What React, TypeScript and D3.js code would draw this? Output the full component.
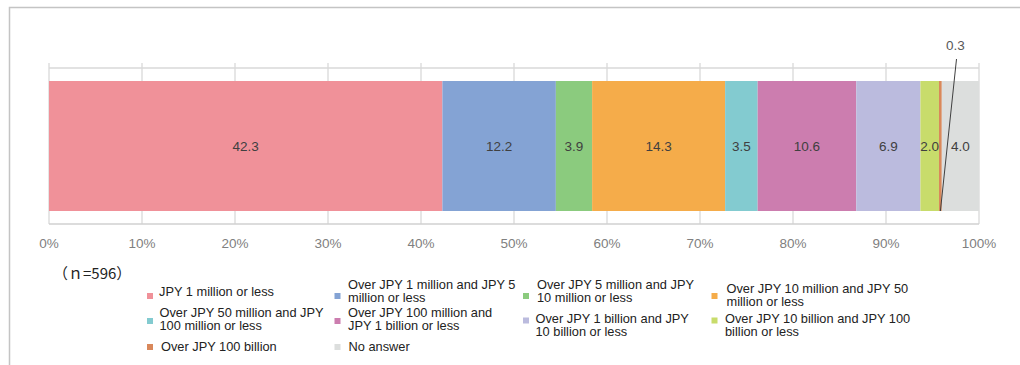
import * as d3 from 'd3'

// values (%), in stacking order
const categories = [
  'JPY 1 million or less',
  'Over JPY 1 million and JPY 5\nmillion or less',
  'Over JPY 5 million and JPY\n10 million or less',
  'Over JPY 10 million and JPY 50\nmillion or less',
  'Over JPY 50 million and JPY\n100 million or less',
  'Over JPY 100 million and\nJPY 1 billion or less',
  'Over JPY 1 billion and JPY\n10 billion or less',
  'Over JPY 10 billion and JPY 100\nbillion or less',
  'Over JPY 100 billion',
  'No answer',
]
const values = [42.3, 12.2, 3.9, 14.3, 3.5, 10.6, 6.9, 2.0, 0.3, 4.0]
const colors = [
  '#F09199', '#84A3D4', '#8BCB7E', '#F5AC4A', '#83CBD0',
  '#CC7DAF', '#BBBBDE', '#C8DC6B', '#D9885B', '#DCDEDD',
]
const xTicks = [0, 10, 20, 30, 40, 50, 60, 70, 80, 90, 100]
const sampleNote = '（ｎ=596）'

const W = 1020
const H = 365
const plot = { left: 49, right: 979, top: 68, bottom: 224 }
const bar = { top: 81, bottom: 211 }
const font = '"Liberation Sans", Arial, sans-serif'

// legend placement (Excel legend is a bit uneven)
const legendPos = [
  { sx: 147, sy: 296, tx: 159, ty: 291.7 },
  { sx: 334.5, sy: 296, tx: 348, ty: 284 },
  { sx: 523, sy: 296, tx: 537, ty: 284 },
  { sx: 711.5, sy: 296, tx: 726.5, ty: 288.3 },
  { sx: 147, sy: 321, tx: 159.5, ty: 312.7 },
  { sx: 334.5, sy: 321, tx: 348, ty: 312.7 },
  { sx: 523, sy: 320.5, tx: 535.5, ty: 318.3 },
  { sx: 711.5, sy: 320.5, tx: 725, ty: 318.3 },
  { sx: 147, sy: 347, tx: 161, ty: 346.7 },
  { sx: 334.5, sy: 347, tx: 348.5, ty: 346.7 },
]

const App = () => {
  const x = d3.scaleLinear().domain([0, 100]).range([plot.left, plot.right])

  const starts = values.map((_, i) => d3.sum(values.slice(0, i)))
  const smallIdx = 8 // 0.3 gets a leader label above the bar

  return (
    <svg width={W} height={H} style={{ display: 'block', position: 'absolute', left: 0, top: 0 }}>
      <rect width={W} height={H} fill="#fff" />
      {/* outer frame */}
      <path d={`M9.5,${H} V7.5 H${W}`} fill="none" stroke="#c4c4c4" strokeWidth={1.5} />

      {/* grid */}
      {xTicks.map(t => (
        <line key={t} x1={x(t)} x2={x(t)} y1={63} y2={plot.bottom} stroke="#d9d9d9" strokeWidth={1.3} />
      ))}
      <line x1={plot.left} x2={plot.right} y1={plot.top} y2={plot.top} stroke="#d9d9d9" strokeWidth={1.3} />
      <line x1={plot.left} x2={plot.right} y1={plot.bottom} y2={plot.bottom} stroke="#d0d0d0" strokeWidth={1.5} />

      {/* bars */}
      {values.map((v, i) => (
        <rect
          key={i}
          x={x(starts[i])}
          y={bar.top}
          width={x(starts[i] + v) - x(starts[i])}
          height={bar.bottom - bar.top}
          fill={colors[i]}
        />
      ))}

      {/* value labels */}
      {values.map((v, i) => i === smallIdx ? null : (
        <text
          key={i}
          x={x(starts[i] + v / 2)}
          y={(bar.top + bar.bottom) / 2}
          textAnchor="middle"
          dominantBaseline="central"
          fontFamily={font}
          fontSize={13.5}
          fill="#404040"
        >
          {v.toFixed(1)}
        </text>
      ))}
      <line
        x1={x(starts[smallIdx] + values[smallIdx] / 2)}
        y1={bar.bottom}
        x2={956.5}
        y2={59}
        stroke="#404040"
        strokeWidth={1}
      />
      <text x={955.5} y={45} textAnchor="middle" dominantBaseline="central" fontFamily={font} fontSize={13.5} fill="#595959">
        {values[smallIdx].toFixed(1)}
      </text>

      {/* x tick labels */}
      {xTicks.map(t => (
        <text key={t} x={x(t)} y={243} textAnchor="middle" dominantBaseline="central" fontFamily={font} fontSize={13.5} fill="#808080">
          {`${t}%`}
        </text>
      ))}

      <text x={53} y={272} dominantBaseline="central" fontFamily='"Noto Sans CJK JP", sans-serif' fontSize={15} fill="#222">
        {sampleNote}
      </text>

      {/* legend */}
      {categories.map((c, i) => {
        const p = legendPos[i]
        return (
          <g key={i}>
            <rect x={p.sx} y={p.sy - 3} width={6} height={6} fill={colors[i]} />
            {c.split('\n').map((line, j) => (
              <text key={j} x={p.tx} y={p.ty + j * 13} dominantBaseline="central" fontFamily={font} fontSize={12.8} fill="#222">
                {line}
              </text>
            ))}
          </g>
        )
      })}
    </svg>
  )
}

export default App
